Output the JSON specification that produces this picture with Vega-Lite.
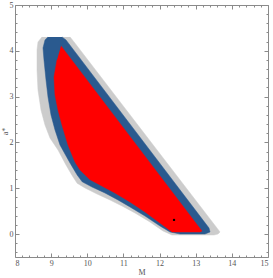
{
  "$schema": "https://vega.github.io/schema/vega-lite/v6.json",
  "autosize": {"type": "none"},
  "width": 253,
  "height": 252,
  "padding": {"left": 15, "top": 5, "right": 5, "bottom": 21},
  "config": {
    "view": {"stroke": "#8a8a8a", "strokeWidth": 1},
    "axis": {"grid": false, "domain": false, "tickColor": "#8a8a8a", "labelColor": "#555555", "titleColor": "#555555", "labelFont": "Liberation Serif", "titleFont": "Liberation Serif", "labelFontSize": 8, "titleFontSize": 8, "titleFontWeight": "normal"}
  },
  "datasets": {
    "shapes": [
      {"region": "gray", "i": 0, "M": 9.522, "a": 4.303},
      {"region": "gray", "i": 1, "M": 9.633, "a": 4.194},
      {"region": "gray", "i": 2, "M": 13.672, "a": 0.046},
      {"region": "gray", "i": 3, "M": 13.617, "a": 0.002},
      {"region": "gray", "i": 4, "M": 13.506, "a": -0.02},
      {"region": "gray", "i": 5, "M": 12.344, "a": -0.02},
      {"region": "gray", "i": 6, "M": 12.095, "a": 0.068},
      {"region": "gray", "i": 7, "M": 11.735, "a": 0.264},
      {"region": "gray", "i": 8, "M": 11.32, "a": 0.461},
      {"region": "gray", "i": 9, "M": 10.961, "a": 0.614},
      {"region": "gray", "i": 10, "M": 10.629, "a": 0.745},
      {"region": "gray", "i": 11, "M": 10.269, "a": 0.876},
      {"region": "gray", "i": 12, "M": 9.937, "a": 1.007},
      {"region": "gray", "i": 13, "M": 9.72, "a": 1.11},
      {"region": "gray", "i": 14, "M": 9.58, "a": 1.28},
      {"region": "gray", "i": 15, "M": 9.411, "a": 1.509},
      {"region": "gray", "i": 16, "M": 9.19, "a": 1.836},
      {"region": "gray", "i": 17, "M": 8.968, "a": 2.098},
      {"region": "gray", "i": 18, "M": 8.83, "a": 2.382},
      {"region": "gray", "i": 19, "M": 8.719, "a": 2.71},
      {"region": "gray", "i": 20, "M": 8.636, "a": 3.146},
      {"region": "gray", "i": 21, "M": 8.609, "a": 3.583},
      {"region": "gray", "i": 22, "M": 8.609, "a": 4.02},
      {"region": "gray", "i": 23, "M": 8.636, "a": 4.194},
      {"region": "gray", "i": 24, "M": 8.747, "a": 4.303},

      {"region": "blue", "i": 0, "M": 9.3, "a": 4.303},
      {"region": "blue", "i": 1, "M": 9.411, "a": 4.238},
      {"region": "blue", "i": 2, "M": 13.368, "a": 0.133},
      {"region": "blue", "i": 3, "M": 13.396, "a": 0.046},
      {"region": "blue", "i": 4, "M": 13.257, "a": 0.002},
      {"region": "blue", "i": 5, "M": 12.566, "a": 0.002},
      {"region": "blue", "i": 6, "M": 12.289, "a": 0.046},
      {"region": "blue", "i": 7, "M": 12.012, "a": 0.177},
      {"region": "blue", "i": 8, "M": 11.597, "a": 0.395},
      {"region": "blue", "i": 9, "M": 11.182, "a": 0.592},
      {"region": "blue", "i": 10, "M": 10.85, "a": 0.745},
      {"region": "blue", "i": 11, "M": 10.49, "a": 0.897},
      {"region": "blue", "i": 12, "M": 10.131, "a": 1.028},
      {"region": "blue", "i": 13, "M": 9.86, "a": 1.14},
      {"region": "blue", "i": 14, "M": 9.72, "a": 1.29},
      {"region": "blue", "i": 15, "M": 9.522, "a": 1.552},
      {"region": "blue", "i": 16, "M": 9.245, "a": 1.945},
      {"region": "blue", "i": 17, "M": 9.107, "a": 2.273},
      {"region": "blue", "i": 18, "M": 8.996, "a": 2.6},
      {"region": "blue", "i": 19, "M": 8.913, "a": 2.993},
      {"region": "blue", "i": 20, "M": 8.858, "a": 3.365},
      {"region": "blue", "i": 21, "M": 8.802, "a": 3.801},
      {"region": "blue", "i": 22, "M": 8.775, "a": 4.063},
      {"region": "blue", "i": 23, "M": 8.83, "a": 4.238},
      {"region": "blue", "i": 24, "M": 8.913, "a": 4.303},

      {"region": "red", "i": 0, "M": 9.273, "a": 4.107},
      {"region": "red", "i": 1, "M": 13.064, "a": 0.177},
      {"region": "red", "i": 2, "M": 13.174, "a": 0.068},
      {"region": "red", "i": 3, "M": 13.119, "a": 0.046},
      {"region": "red", "i": 4, "M": 12.344, "a": 0.046},
      {"region": "red", "i": 5, "M": 12.012, "a": 0.242},
      {"region": "red", "i": 6, "M": 11.597, "a": 0.483},
      {"region": "red", "i": 7, "M": 11.182, "a": 0.701},
      {"region": "red", "i": 8, "M": 10.767, "a": 0.897},
      {"region": "red", "i": 9, "M": 10.352, "a": 1.072},
      {"region": "red", "i": 10, "M": 10.07, "a": 1.19},
      {"region": "red", "i": 11, "M": 9.8, "a": 1.4},
      {"region": "red", "i": 12, "M": 9.66, "a": 1.574},
      {"region": "red", "i": 13, "M": 9.467, "a": 1.945},
      {"region": "red", "i": 14, "M": 9.3, "a": 2.382},
      {"region": "red", "i": 15, "M": 9.19, "a": 2.71},
      {"region": "red", "i": 16, "M": 9.107, "a": 3.037},
      {"region": "red", "i": 17, "M": 9.079, "a": 3.43},
      {"region": "red", "i": 18, "M": 9.162, "a": 3.801}
    ],
    "best": [{"M": 12.4, "a": 0.31}]
  },
  "resolve": {"axis": {"x": "independent", "y": "independent"}},
  "layer": [
    {
      "data": {"name": "shapes"},
      "transform": [{"filter": "datum.region === 'gray'"}],
      "mark": {"type": "line", "fill": "#cccccc", "stroke": "#cccccc", "strokeWidth": 0.5, "clip": true},
      "encoding": {
        "x": {"field": "M", "type": "quantitative", "scale": {"domain": [8, 15], "nice": false, "zero": false}, "axis": {"orient": "bottom", "title": "M", "values": [8, 9, 10, 11, 12, 13, 14, 15], "tickSize": -4, "labelPadding": 6, "titlePadding": 1}},
        "y": {"field": "a", "type": "quantitative", "scale": {"domain": [-0.5, 5], "nice": false, "zero": false}, "axis": {"orient": "left", "title": "a*", "values": [0, 1, 2, 3, 4, 5], "tickSize": -4, "labelPadding": 6, "titlePadding": 0}},
        "order": {"field": "i", "type": "quantitative"}
      }
    },
    {
      "data": {"name": "shapes"},
      "transform": [{"filter": "datum.region === 'blue'"}],
      "mark": {"type": "line", "fill": "#2a5a8f", "stroke": "#2a5a8f", "strokeWidth": 0.5, "clip": true},
      "encoding": {
        "x": {"field": "M", "type": "quantitative", "axis": {"orient": "top", "title": null, "labels": false, "values": [8, 9, 10, 11, 12, 13, 14, 15], "tickSize": -4}},
        "y": {"field": "a", "type": "quantitative", "axis": {"orient": "right", "title": null, "labels": false, "values": [0, 1, 2, 3, 4, 5], "tickSize": -4}},
        "order": {"field": "i", "type": "quantitative"}
      }
    },
    {
      "data": {"name": "shapes"},
      "transform": [{"filter": "datum.region === 'red'"}],
      "mark": {"type": "line", "fill": "#ff0000", "stroke": "#ff0000", "strokeWidth": 0.5, "clip": true},
      "encoding": {
        "x": {"field": "M", "type": "quantitative", "axis": {"orient": "bottom", "title": null, "labels": false, "values": [8.2, 8.4, 8.6, 8.8, 9.2, 9.4, 9.6, 9.8, 10.2, 10.4, 10.6, 10.8, 11.2, 11.4, 11.6, 11.8, 12.2, 12.4, 12.6, 12.8, 13.2, 13.4, 13.6, 13.8, 14.2, 14.4, 14.6, 14.8], "tickSize": -2}},
        "y": {"field": "a", "type": "quantitative", "axis": {"orient": "left", "title": null, "labels": false, "values": [-0.4, -0.2, 0.2, 0.4, 0.6, 0.8, 1.2, 1.4, 1.6, 1.8, 2.2, 2.4, 2.6, 2.8, 3.2, 3.4, 3.6, 3.8, 4.2, 4.4, 4.6, 4.8], "tickSize": -2}},
        "order": {"field": "i", "type": "quantitative"}
      }
    },
    {
      "data": {"name": "best"},
      "mark": {"type": "point", "filled": true, "color": "#000000", "size": 6, "opacity": 1},
      "encoding": {
        "x": {"field": "M", "type": "quantitative", "axis": {"orient": "top", "title": null, "labels": false, "values": [8.2, 8.4, 8.6, 8.8, 9.2, 9.4, 9.6, 9.8, 10.2, 10.4, 10.6, 10.8, 11.2, 11.4, 11.6, 11.8, 12.2, 12.4, 12.6, 12.8, 13.2, 13.4, 13.6, 13.8, 14.2, 14.4, 14.6, 14.8], "tickSize": -2}},
        "y": {"field": "a", "type": "quantitative", "axis": {"orient": "right", "title": null, "labels": false, "values": [-0.4, -0.2, 0.2, 0.4, 0.6, 0.8, 1.2, 1.4, 1.6, 1.8, 2.2, 2.4, 2.6, 2.8, 3.2, 3.4, 3.6, 3.8, 4.2, 4.4, 4.6, 4.8], "tickSize": -2}}
      }
    }
  ]
}
